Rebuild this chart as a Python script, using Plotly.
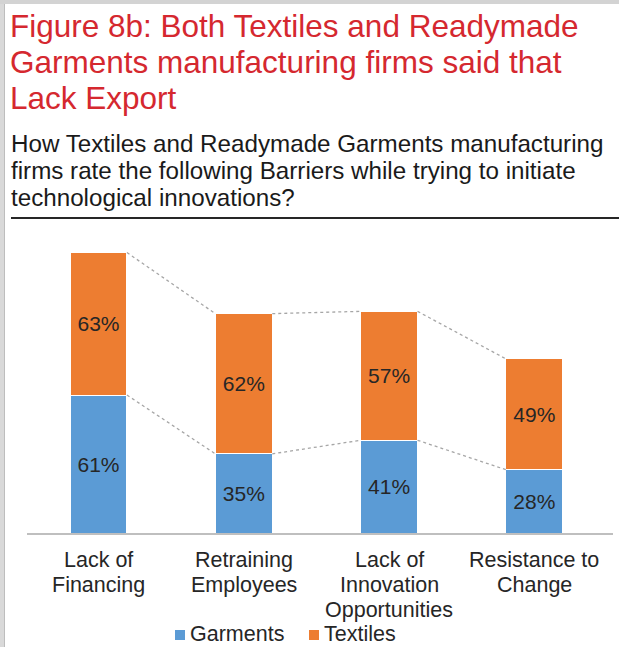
import plotly.graph_objects as go

# Survey results: share of firms rating each barrier
categories = [["Lack of", "Financing"],
              ["Retraining", "Employees"],
              ["Lack of", "Innovation", "Opportunities"],
              ["Resistance to", "Change"]]
garments = [61, 35, 41, 28]
textiles = [63, 62, 57, 49]
series_names = ["Garments", "Textiles"]

title_lines = ["Figure 8b: Both Textiles and Readymade",
               "Garments manufacturing firms said that",
               "Lack Export"]
subtitle_lines = ["How Textiles and Readymade Garments manufacturing",
                  "firms rate the following Barriers while trying to initiate",
                  "technological innovations?"]

W, H = 619, 647
FONT = "Liberation Sans, Arial, sans-serif"
BLUE = "#5B9BD5"
ORANGE = "#ED7D31"
RED = "#D5282F"
INK = "#262626"

x = list(range(len(categories)))
bar_w = 0.392


def px_x(p):
    return p / W


def px_y(p):
    return 1 - p / H


fig = go.Figure()
for name, vals, col in [(series_names[0], garments, BLUE),
                        (series_names[1], textiles, ORANGE)]:
    fig.add_trace(go.Bar(
        x=x, y=vals, name=name, width=bar_w, showlegend=False,
        marker=dict(color=col, line=dict(color="#FFFFFF", width=1)),
        text=[f"{v}%" for v in vals], textposition="inside",
        insidetextanchor="middle", textangle=0,
        textfont=dict(family=FONT, size=21, color=INK),
    ))

# Dotted series lines joining neighbouring stacks
tops = [g + t for g, t in zip(garments, textiles)]
for level in (garments, tops):
    for i in range(len(x) - 1):
        fig.add_trace(go.Scatter(
            x=[x[i] + bar_w / 2, x[i + 1] - bar_w / 2],
            y=[level[i], level[i + 1]],
            mode="lines", showlegend=False, hoverinfo="skip",
            line=dict(color="#A6A6A6", width=1.3, dash="dot"),
        ))

annotations = []
# Title (red) and subtitle, one annotation per line for tight leading
for k, line in enumerate(title_lines):
    annotations.append(dict(
        text=line, xref="paper", yref="paper",
        x=px_x(8), y=px_y(26 + 36 * k), xanchor="left", yanchor="middle",
        showarrow=False, font=dict(family=FONT, size=31.5, color=RED)))
for k, line in enumerate(subtitle_lines):
    annotations.append(dict(
        text=line, xref="paper", yref="paper",
        x=px_x(9), y=px_y(143.5 + 27 * k), xanchor="left", yanchor="middle",
        showarrow=False, font=dict(family=FONT, size=24.2, color="#1A1A1A")))

# Category labels under the axis
for i, parts in enumerate(categories):
    for k, part in enumerate(parts):
        annotations.append(dict(
            text=part, xref="x", yref="paper",
            x=x[i], y=px_y(559.5 + 25 * k), xanchor="center", yanchor="middle",
            showarrow=False, font=dict(family=FONT, size=21.5, color=INK)))

# Legend: coloured square followed by series name
legend_items = [(series_names[0], BLUE, 175), (series_names[1], ORANGE, 309)]
shapes = []
for name, col, left in legend_items:
    shapes.append(dict(type="rect", xref="paper", yref="paper",
                       x0=px_x(left), x1=px_x(left + 10),
                       y0=px_y(640), y1=px_y(630),
                       fillcolor=col, line=dict(width=0)))
    annotations.append(dict(
        text=name, xref="paper", yref="paper",
        x=px_x(left + 13), y=px_y(634), xanchor="left", yanchor="middle",
        showarrow=False, font=dict(family=FONT, size=21.5, color=INK)))

shapes += [
    # grey frame on the left and top edges
    dict(type="rect", xref="paper", yref="paper",
         x0=0, x1=px_x(4), y0=0, y1=1,
         fillcolor="#D9D9D9", line=dict(width=0), layer="above"),
    dict(type="line", xref="paper", yref="paper",
         x0=px_x(4.5), x1=px_x(4.5), y0=0, y1=px_y(4),
         line=dict(color="#BDBDBD", width=1)),
    dict(type="rect", xref="paper", yref="paper",
         x0=0, x1=1, y0=px_y(4), y1=1,
         fillcolor="#D3D3D3", line=dict(width=0), layer="above"),
    # rule under the subtitle
    dict(type="line", xref="paper", yref="paper",
         x0=px_x(11), x1=1, y0=px_y(218), y1=px_y(218),
         line=dict(color=INK, width=2)),
]

fig.update_layout(
    width=W, height=H,
    margin=dict(l=0, r=0, t=0, b=0),
    paper_bgcolor="white", plot_bgcolor="white",
    barmode="stack", showlegend=False,
    font=dict(family=FONT, color=INK),
    xaxis=dict(
        domain=[px_x(27), px_x(613)],
        range=[-0.492, 3.541],
        showticklabels=False, showgrid=False, zeroline=False,
        showline=True, linecolor="#BFBFBF", linewidth=2, ticks="",
    ),
    yaxis=dict(
        domain=[px_y(533), px_y(239)],
        range=[0, 130],
        showgrid=False, zeroline=False, showticklabels=False, showline=False,
    ),
    annotations=annotations,
    shapes=shapes,
)

fig.write_html("out.html")
